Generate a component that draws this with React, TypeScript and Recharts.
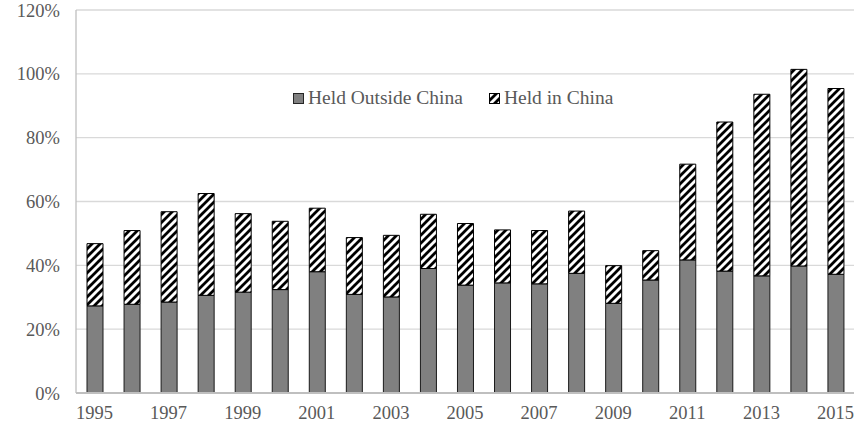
import { BarChart, Bar, XAxis, YAxis, CartesianGrid } from "recharts";

const YEARS = [
  "1995", "1996", "1997", "1998", "1999", "2000", "2001", "2002", "2003", "2004", "2005",
  "2006", "2007", "2008", "2009", "2010", "2011", "2012", "2013", "2014", "2015",
];
// share held outside China, %
const OUTSIDE = [27.3, 27.8, 28.5, 30.6, 31.6, 32.4, 38.0, 30.9, 30.1, 39.0, 33.8, 34.5, 34.2, 37.5, 28.1, 35.4, 41.7, 38.2, 36.7, 39.8, 37.2];
// total height of the bar, %
const TOTAL = [46.8, 50.9, 56.8, 62.5, 56.2, 53.8, 57.9, 48.7, 49.4, 56.0, 53.1, 51.1, 50.9, 57.0, 39.9, 44.6, 71.7, 84.9, 93.6, 101.4, 95.4];
const Y_TICKS = [0, 20, 40, 60, 80, 100, 120];

const data = YEARS.map((year, i) => ({
  year,
  outside: OUTSIDE[i],
  inChina: +(TOTAL[i] - OUTSIDE[i]).toFixed(1),
}));

const FONT = "'Liberation Serif', 'Times New Roman', serif";
const TEXT = "#595959";
const GRID = "#d9d9d9";
const AXIS = "#bfbfbf";

function LegendBox() {
  const item = { display: "flex", alignItems: "center", gap: 4 } as const;
  return (
    <div
      style={{
        position: "absolute", top: 86, left: 293, display: "flex", gap: 26,
        fontFamily: FONT, fontSize: 19.5, color: TEXT, lineHeight: "24px",
      }}
    >
      <div style={item}>
        <svg width={11} height={11}>
          <rect x={0.5} y={0.5} width={10} height={10} fill="#808080" stroke="#262626" />
        </svg>
        <span>Held Outside China</span>
      </div>
      <div style={item}>
        <svg width={11} height={11}>
          <rect x={0.5} y={0.5} width={10} height={10} fill="url(#hatch)" stroke="#000" />
        </svg>
        <span>Held in China</span>
      </div>
    </div>
  );
}

export default function App() {
  return (
    <div style={{ position: "absolute", left: 0, top: 0, width: 855, height: 425, background: "#fff" }}>
      <BarChart width={855} height={425} data={data} margin={{ top: 10, right: 1, left: 0, bottom: 0 }}>
        <defs>
          <pattern id="hatch" patternUnits="userSpaceOnUse" width={8} height={8}>
            <rect width={8} height={8} fill="#fff" />
            <path d="M-1,9 L9,-1 M-2,2 L2,-2 M6,10 L10,6" stroke="#000" strokeWidth={2.8} />
          </pattern>
        </defs>
        <CartesianGrid vertical={false} stroke={GRID} strokeWidth={1.3} />
        <XAxis
          dataKey="year"
          interval={1}
          height={32}
          tickLine={false}
          tickSize={0}
          tickMargin={13}
          axisLine={{ stroke: AXIS, strokeWidth: 2 }}
          tick={{ fontFamily: FONT, fontSize: 18.5, fill: TEXT }}
        />
        <YAxis
          domain={[0, 120]}
          ticks={Y_TICKS}
          tickFormatter={(v: number) => `${v}%`}
          width={76}
          tickLine={false}
          tickSize={0}
          tickMargin={16}
          axisLine={{ stroke: AXIS, strokeWidth: 1.3 }}
          tick={{ fontFamily: FONT, fontSize: 18.5, fill: TEXT }}
        />
        <YAxis yAxisId="r" orientation="right" width={0} tick={false} tickLine={false} axisLine={{ stroke: AXIS, strokeWidth: 1.3 }} />
        <Bar dataKey="outside" stackId="a" barSize={16} fill="#808080" stroke="#1a1a1a" strokeWidth={1} isAnimationActive={false} />
        <Bar dataKey="inChina" stackId="a" barSize={16} fill="url(#hatch)" stroke="#000" strokeWidth={1} isAnimationActive={false} />
      </BarChart>
      <LegendBox />
    </div>
  );
}
